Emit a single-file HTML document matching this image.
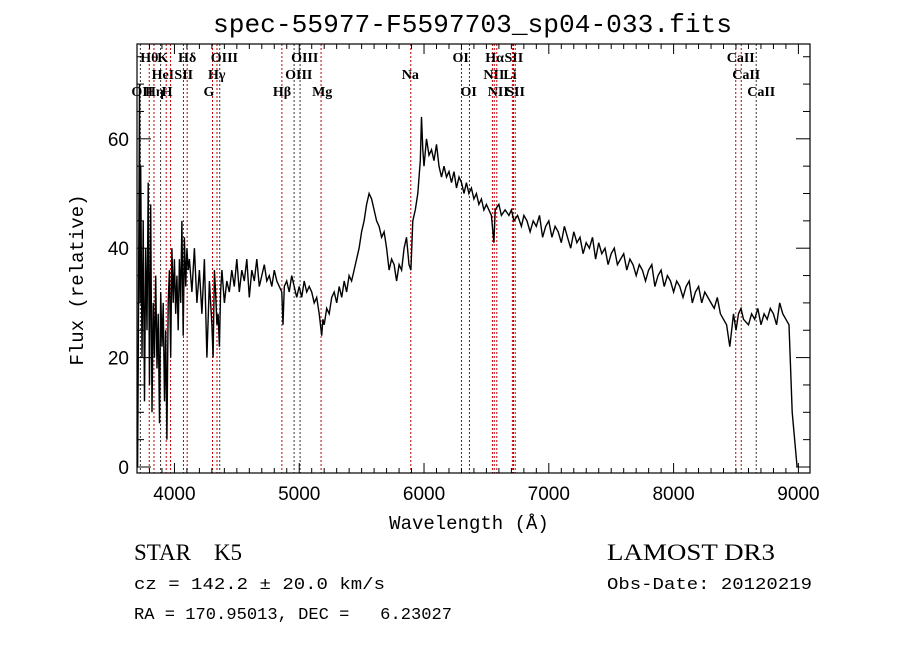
<!DOCTYPE html>
<html><head><meta charset="utf-8"><style>
body{margin:0;background:#fff;}
svg text{fill:#000}
</style></head><body>
<svg width="900" height="649" viewBox="0 0 900 649" xmlns="http://www.w3.org/2000/svg">
<rect width="900" height="649" fill="#fff"/>
<text x="213" y="32" textLength="519" lengthAdjust="spacingAndGlyphs" font-family="Liberation Mono, monospace" font-size="26">spec-55977-F5597703_sp04-033.fits</text>
<g id="lines"></g>
<g id="spec"></g>
<g id="axes"></g>
<text x="83" y="280" transform="rotate(-90 83 280)" text-anchor="middle" font-family="Liberation Mono, monospace" font-size="19">Flux (relative)</text>
<text x="469" y="529" text-anchor="middle" font-family="Liberation Mono, monospace" font-size="19">Wavelength (Å)</text>
<text x="134" y="560" xml:space="preserve" font-family="Liberation Serif, serif" font-size="23">STAR    K5</text>
<text x="607" y="560" textLength="168" lengthAdjust="spacingAndGlyphs" font-family="Liberation Serif, serif" font-size="23">LAMOST DR3</text>
<text x="134" y="589" textLength="251" lengthAdjust="spacingAndGlyphs" font-family="Liberation Mono, monospace" font-size="17">cz = 142.2 ± 20.0 km/s</text>
<text x="607" y="589" textLength="205" lengthAdjust="spacingAndGlyphs" font-family="Liberation Mono, monospace" font-size="17">Obs-Date: 20120219</text>
<text x="134" y="619" xml:space="preserve" textLength="318" lengthAdjust="spacingAndGlyphs" font-family="Liberation Mono, monospace" font-size="17">RA = 170.95013, DEC =   6.23027</text>
</svg>
<script>
const wave=[3705,3710,3715,3720,3725,3730,3740,3750,3760,3770,3780,3790,3800,3810,3820,3830,3840,3850,3860,3870,3880,3890,3900,3910,3920,3930,3940,3950,3960,3970,3980,3990,4000,4010,4020,4030,4040,4050,4060,4070,4080,4090,4100,4110,4120,4140,4160,4180,4200,4220,4240,4260,4280,4300,4310,4320,4330,4340,4350,4360,4370,4380,4400,4420,4440,4460,4480,4500,4520,4540,4560,4580,4600,4620,4640,4660,4680,4700,4720,4740,4760,4780,4800,4820,4840,4860,4870,4880,4900,4920,4940,4960,4980,5000,5020,5040,5060,5080,5100,5120,5140,5160,5180,5190,5200,5220,5240,5260,5280,5300,5320,5340,5360,5380,5400,5420,5440,5460,5480,5500,5520,5540,5560,5580,5600,5620,5640,5660,5680,5700,5720,5740,5760,5780,5800,5820,5840,5860,5880,5895,5910,5930,5950,5970,5980,5990,6000,6020,6040,6060,6080,6100,6120,6140,6160,6180,6200,6220,6240,6260,6280,6300,6320,6340,6360,6380,6400,6420,6440,6460,6480,6500,6520,6540,6560,6570,6600,6620,6650,6680,6700,6720,6750,6780,6800,6825,6850,6875,6900,6925,6950,6975,7000,7025,7050,7075,7100,7125,7150,7175,7200,7225,7250,7275,7300,7325,7350,7375,7400,7425,7450,7475,7500,7525,7550,7575,7600,7625,7650,7675,7700,7725,7750,7775,7800,7825,7850,7875,7900,7925,7950,7975,8000,8025,8050,8075,8100,8125,8150,8175,8200,8225,8250,8275,8300,8325,8350,8375,8400,8425,8450,8480,8500,8520,8540,8560,8600,8625,8650,8675,8700,8725,8750,8775,8800,8825,8850,8875,8900,8925,8950,8990,8998,9003];
const flux=[0,18,45,70,30,55,20,45,12,40,25,52,15,48,10,30,20,35,18,28,8,32,22,30,12,25,5,30,36,20,40,30,38,28,35,25,38,30,45,24,42,33,40,36,38,32,40,30,36,28,38,20,34,26,20,36,32,26,28,22,32,36,30,34,32,36,33,38,32,36,34,38,31,36,34,38,33,35,37,34,35,33,36,34,33,32,26,33,34,32,35,33,31,33,31,34,32,33,32,30,31,28,24,27,26,29,28,31,32,30,33,31,34,32,35,34,36,38,40,43,45,48,50,49,47,45,44,42,43,40,36,38,37,34,37,36,40,42,37,36,45,47,50,56,64,58,55,60,57,58,56,59,55,53,55,53,54,52,54,51,53,52,50,52,50,51,49,50,48,49,47,48,47,46,41,47,48,46,47,46,47,45,46,44,46,45,43,45,44,46,42,44,45,42,44,43,41,44,42,40,43,41,42,39,41,40,42,38,41,39,40,37,39,40,37,38,39,36,38,37,35,37,36,34,36,37,33,35,36,33,35,34,32,34,33,31,33,34,30,32,33,30,32,31,30,29,31,28,27,26,22,28,25,28,29,27,26,28,27,29,26,28,27,29,28,26,30,28,27,26,10,0];
const lineWaves=[3727,3798,3836,3889,3934,3969,4072,4102,4305,4341,4363,4861,4959,5007,5175,5894,6300,6364,6548,6563,6583,6708,6717,6731,8498,8542,8662];
const lineRed=[0,1,1,0,1,1,0,1,1,1,0,1,0,0,1,1,0,0,1,1,1,1,1,1,1,1,0];
const labelText=["OII","Hθ","Hη","HeI","K","H","SII","Hδ","G","Hγ","OIII","Hβ","OIII","OIII","Mg","Na","OI","OI","NII","Hα","NII","Li","SII","SII","CaII","CaII","CaII"];
const labelRow=[2,0,2,1,0,2,1,0,2,1,0,2,1,0,2,1,0,2,1,0,2,1,0,2,0,1,2];
const xTicks=[4000,5000,6000,7000,8000,9000];
const yTicks=[0,20,40,60];
const L=137,R=810,T=44,B=473;
const X=w=>L+(w-3700)*(R-L)/(9093-3700);
const Y=f=>467-f*5.47;
const NS="http://www.w3.org/2000/svg";
function mk(tag,attrs,parent){const e=document.createElementNS(NS,tag);for(const k in attrs)e.setAttribute(k,attrs[k]);parent.appendChild(e);return e;}
const lg=document.getElementById('lines');
lineWaves.forEach((w,i)=>{
 const l=mk('line',{x1:X(w),x2:X(w),y1:T,y2:B,stroke:lineRed[i]?'#c00000':'#333','stroke-width':1,'stroke-dasharray':'2,2'},lg);
 
 
 const t=mk('text',{x:X(w)-9,y:62+labelRow[i]*17,'font-family':'Liberation Serif, serif','font-size':14,'font-weight':'bold'},lg);
 t.textContent=labelText[i];
 
 
});
const sg=document.getElementById('spec');
let d='';wave.forEach((w,i)=>{d+=(i?'L':'M')+X(w).toFixed(1)+','+Math.min(Y(flux[i]),B).toFixed(1);});
const p=mk('path',{d:d,fill:'none',stroke:'#000','stroke-width':1.4},sg);


const ag=document.getElementById('axes');
const fr=mk('rect',{x:L,y:T,width:R-L,height:B-T,fill:'none',stroke:'#000','stroke-width':1.2},ag);


for(let w=3800;w<=9000;w+=100){const big=w%1000===0;const h=big?10:5;
 mk('line',{x1:X(w),x2:X(w),y1:B,y2:B-h,stroke:'#000'},ag);
 mk('line',{x1:X(w),x2:X(w),y1:T,y2:T+h,stroke:'#000'},ag);}
xTicks.forEach(w=>{const t=mk('text',{x:X(w),y:B+27,'text-anchor':'middle','font-family':'Liberation Sans, sans-serif','font-size':19},ag);t.textContent=w;
 
 });
for(let f=0;f<=75;f+=5){const big=f%20===0;const h=big?14:7;
 mk('line',{x1:L,x2:L+h,y1:Y(f),y2:Y(f),stroke:'#000'},ag);
 mk('line',{x1:R,x2:R-h,y1:Y(f),y2:Y(f),stroke:'#000'},ag);}
yTicks.forEach(f=>{const t=mk('text',{x:L-8,y:Y(f)+7,'text-anchor':'end','font-family':'Liberation Sans, sans-serif','font-size':19},ag);t.textContent=f;
 
 });
</script>
</body></html>
